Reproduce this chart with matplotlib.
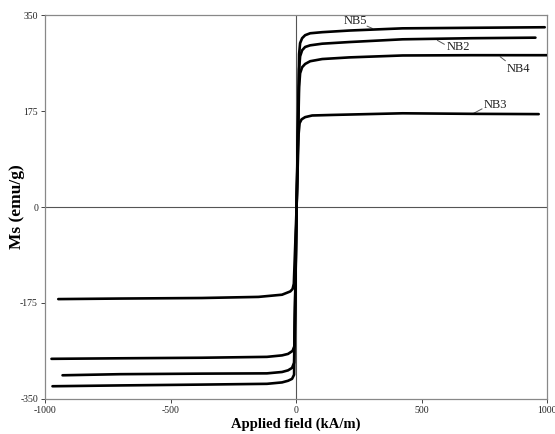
import matplotlib
matplotlib.use("Agg")
import matplotlib.pyplot as plt

plt.rcParams['font.family'] = ['Liberation Serif', 'DejaVu Serif']

# Hysteresis curves (applied field kA/m, magnetisation emu/g)
nb5_h = [-970, -700, -375, -116, -56, -32, -16, -8, 2, 12, 16, 24, 36, 56, 104, 212, 424, 700, 990]
nb5_m = [-327, -325.5, -324, -322.6, -320, -317, -313.5, -306, 0, 279, 299, 308, 313.5, 317, 319, 322, 326, 327, 328]

nb2_h = [-930, -700, -375, -116, -56, -32, -16, -8, 2, 12, 16, 24, 36, 56, 104, 212, 424, 700, 953]
nb2_m = [-307, -305, -304, -303.5, -301, -298, -293.5, -284, 0, 251.5, 275, 286, 292, 295, 298, 301, 306, 308, 309]

nb4_h = [-974, -700, -375, -116, -56, -32, -14, -6, 2, 12, 16, 24, 36, 56, 104, 212, 424, 700, 998]
nb4_m = [-277, -276, -275, -273.4, -270.7, -268, -262.5, -253, 0, 219, 244, 255, 261, 266, 270, 273, 276.5, 277, 277]

nb3_h = [-947, -700, -375, -150, -56, -23, -14, -9, 2, 10, 14, 22, 36, 64, 144, 424, 700, 966]
nb3_m = [-168, -167, -166, -164, -160, -154, -149.6, -140, 0, 133, 153, 160, 164, 167, 168, 171, 170, 169.5]

series = {"NB5": (nb5_h, nb5_m), "NB2": (nb2_h, nb2_m),
          "NB4": (nb4_h, nb4_m), "NB3": (nb3_h, nb3_m)}

# label text position and leader line (start, end) in data coords
labels = {
    "NB5": ((236, 339), (283, 330), (303, 326)),
    "NB2": ((645, 292), (563, 304), (590, 297)),
    "NB4": ((884, 251), (813, 274), (833, 267)),
    "NB3": ((792, 187), (703, 170), (740, 179)),
}

x_ticks = [-1000, -500, 0, 500, 1000]
y_ticks = [-350, -175, 0, 175, 350]

fig = plt.figure(figsize=(5.55, 4.34), dpi=100)
ax = fig.add_axes([0.081, 0.081, 0.905, 0.884])

ax.axhline(0, color='#555555', lw=0.8, zorder=1)
ax.axvline(0, color='#555555', lw=0.8, zorder=1)

for name, (h, m) in series.items():
    ax.plot(h, m, color='black', lw=1.9, solid_joinstyle='round',
            solid_capstyle='round', zorder=3)

for name, (tp, p0, p1) in labels.items():
    ax.text(tp[0], tp[1], name, ha='center', va='center', fontsize=9, color='#222222')
    ax.plot([p0[0], p1[0]], [p0[1], p1[1]], color='#555555', lw=0.7)

ax.set_xlim(-1000, 1000)
ax.set_ylim(-350, 350)
ax.set_xticks(x_ticks)
ax.set_yticks(y_ticks)
ax.set_xticklabels([str(t) for t in x_ticks])
ax.set_yticklabels([str(t) for t in y_ticks])
ax.tick_params(axis='both', labelsize=7, colors='#444444', labelcolor='#222222',
               length=3, width=0.7, direction='out', pad=2)
for s in ax.spines.values():
    s.set_color('#888888')
    s.set_linewidth(0.9)

ax.set_xlabel('Applied field (kA/m)', fontsize=10.5, fontweight='bold', labelpad=2)
ax.set_ylabel('Ms (emu/g)', fontsize=12.5, fontweight='bold')
ax.yaxis.set_label_coords(-0.039, 0.5)

fig.savefig('out.png', dpi=100, facecolor='white')
